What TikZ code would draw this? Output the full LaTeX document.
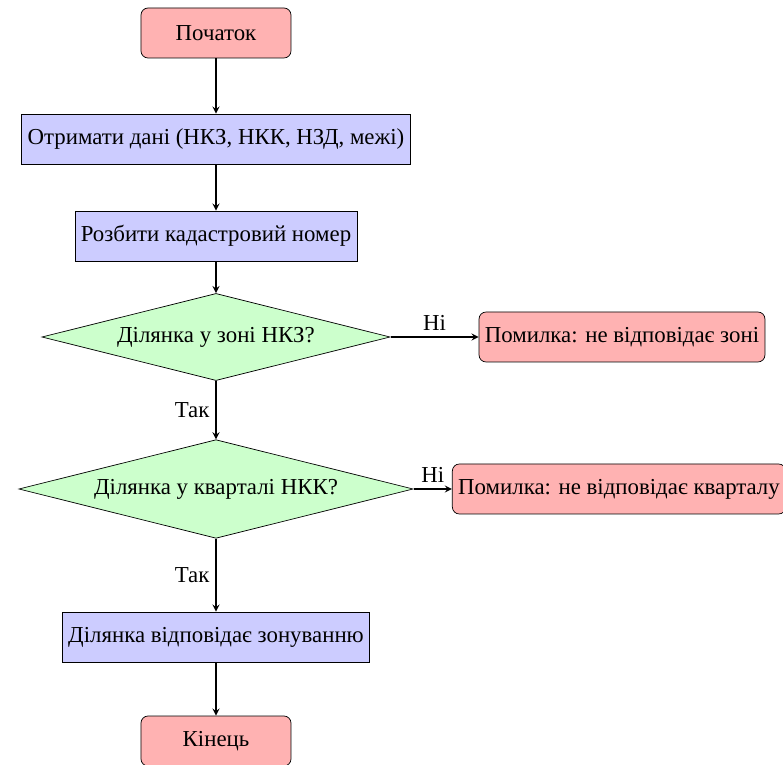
\documentclass[tikz,border=0pt]{standalone}
\usepackage{fontspec}
\setmainfont{Liberation Serif}
\usetikzlibrary{shapes.geometric, arrows}

\begin{document}
\begin{tikzpicture}[x=1cm, y=1cm,
    startstop/.style={rectangle, rounded corners, minimum width=3cm, minimum height=1cm, text centered, draw=black, fill=red!30},
    process/.style={rectangle, minimum width=3cm, minimum height=1cm, text centered, draw=black, fill=blue!20},
    decision/.style={diamond, aspect=4, text centered, draw=black, fill=green!20, inner sep=4pt},
    flow/.style={thick, ->, >=stealth},
    font=\fontsize{13}{15}\selectfont]
    \useasboundingbox (-4.32,0.66) rectangle (11.34,-14.64);
    \node[startstop] (start) at (0,0) {Початок};
    \node[process] (getdata) at (0,-2.12) {Отримати дані (НКЗ, НКК, НЗД, межі)};
    \node[process] (split) at (0,-4.06) {Розбити кадастровий номер};
    \node[decision] (zone) at (0,-6.08) {Ділянка у зоні НКЗ?};
    \node[startstop] (errzone) at (8.12,-6.08) {Помилка: не відповідає зоні};
    \node[decision] (block) at (0,-9.12) {Ділянка у кварталі НКК?};
    \node[startstop] (errblock) at (8.06,-9.12) {Помилка: не відповідає кварталу};
    \node[process] (ok) at (0,-12.08) {Ділянка відповідає зонуванню};
    \node[startstop] (stop) at (0,-14.16) {Кінець};
    \draw[flow] (start) -- (getdata);
    \draw[flow] (getdata) -- (split);
    \draw[flow] (split) -- (zone);
    \draw[flow] (zone) -- node[left] {Так} (block);
    \draw[flow] (zone) -- node[above] {Ні} (errzone);
    \draw[flow] (block) -- node[left] {Так} (ok);
    \draw[flow] (block) -- node[above] {Ні} (errblock);
    \draw[flow] (ok) -- (stop);
\end{tikzpicture}
\end{document}
